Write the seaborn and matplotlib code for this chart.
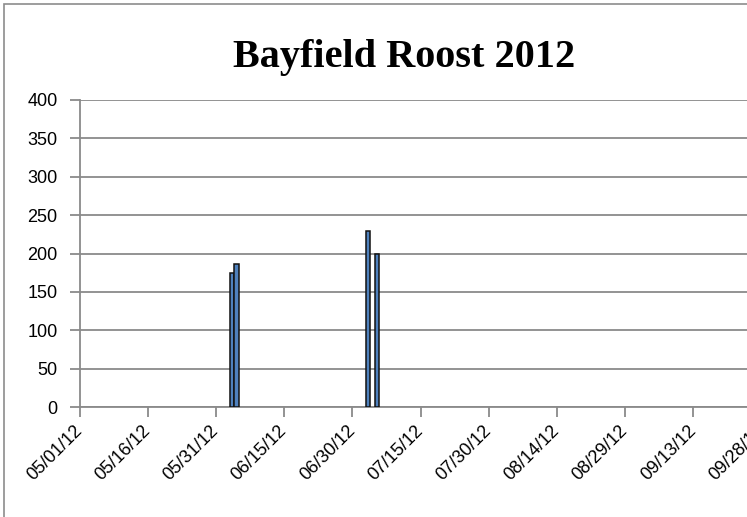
import pandas as pd
import numpy as np
import matplotlib
matplotlib.use("Agg")
import matplotlib.pyplot as plt
import matplotlib.dates as mdates
from matplotlib.patches import Rectangle
import seaborn as sns

# roost counts
dates = ["2012-06-03", "2012-06-04", "2012-07-03", "2012-07-05"]
counts = [174, 186, 229, 200]

# axis setup
tick_dates = pd.date_range("2012-05-01", periods=11, freq="15D")
x_start = "2012-05-01"
x_end = "2012-10-13"
y_ticks = [0, 50, 100, 150, 200, 250, 300, 350, 400]
title = "Bayfield Roost 2012"

W, H = 747, 517
bar_color = "#4F81BD"
grid_color = "#8a8a8a"

df = pd.DataFrame({"date": pd.to_datetime(dates), "count": counts})
# excel date axis puts each bar in the middle of its day
df["x"] = mdates.date2num(df["date"]) + 0.5

plt.rcParams["font.family"] = ["Liberation Sans", "DejaVu Sans"]

fig = plt.figure(figsize=(W / 100, H / 100), dpi=100)
x0 = mdates.date2num(pd.Timestamp(x_start))
x1 = mdates.date2num(pd.Timestamp(x_end))
px_per_day = 4.547
left_px, top_px, bottom_px = 79.6, 100, 407
ax = fig.add_axes([left_px / W, (H - bottom_px) / H,
                   (x1 - x0) * px_per_day / W, (bottom_px - top_px) / H])

sns.barplot(data=df, x="x", y="count", native_scale=True, width=0.9,
            color=bar_color, edgecolor="#111111", linewidth=1.1,
            saturation=1, ax=ax, zorder=3)

ax.set_xlim(x0, x1)
ax.set_ylim(0, 400)
ax.set_yticks(y_ticks)
ax.set_xticks(mdates.date2num(tick_dates))
ax.set_xticklabels([d.strftime("%m/%d/%y") for d in tick_dates],
                   rotation=45, ha="right", va="center", rotation_mode="anchor")
ax.set_xlabel("")
ax.set_ylabel("")

ax.grid(axis="y", color=grid_color, linewidth=1.3, zorder=0)
ax.set_axisbelow(True)
for s in ["top", "right"]:
    ax.spines[s].set_visible(False)
for s in ["left", "bottom"]:
    ax.spines[s].set_color(grid_color)
    ax.spines[s].set_linewidth(1.3)
ax.tick_params(axis="both", colors=grid_color, length=7, width=1.3,
               labelsize=13, labelcolor="black")
ax.tick_params(axis="y", pad=9)
ax.tick_params(axis="x", pad=8)

fig.text(404 / W, 1 - 67 / H, title, ha="center", va="baseline",
         fontsize=29, fontweight="bold", family=["Liberation Serif", "DejaVu Serif"])

# chart border (cropped on right/bottom)
fig.add_artist(Rectangle((4 / W, -1), 2, 2 - 4 / H, transform=fig.transFigure,
                         fill=False, edgecolor="#8c8c8c", linewidth=1.2))

fig.savefig("out.png", dpi=100)
